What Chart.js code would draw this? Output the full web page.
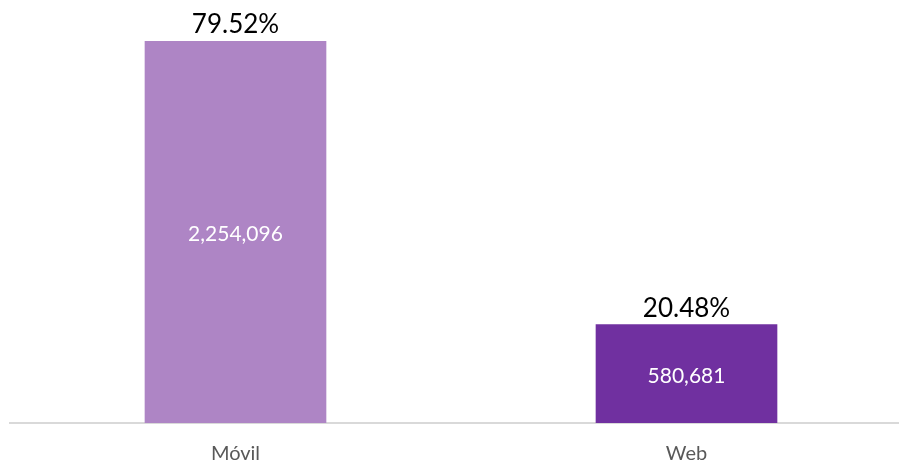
<!DOCTYPE html>
<html>
<head>
<meta charset="utf-8">
<script src="https://cdn.jsdelivr.net/npm/chart.js@4.4.1/dist/chart.umd.min.js"></script>
<style>
  html, body { margin: 0; padding: 0; background: #fff; overflow: hidden; }
  .wrap { width: 899px; height: 464px; overflow: hidden; }
</style>
</head>
<body>
<div class="wrap"><canvas id="chart" width="912" height="477"></canvas></div>
<script>
const categories = ["Móvil", "Web"];
const sessions = [2254096, 580681];
const barColors = ["#AE85C5", "#7030A0"];

const total = sessions.reduce((a, b) => a + b, 0);
const shares = sessions.map((v) => ((v / total) * 100).toFixed(2) + "%");

// value inside the bar, share on top of it
const barLabels = {
  id: "barLabels",
  afterDatasetsDraw(chart) {
    const ctx = chart.ctx;
    const meta = chart.getDatasetMeta(0);
    ctx.save();
    ctx.textAlign = "center";
    meta.data.forEach((bar, i) => {
      ctx.fillStyle = "#ffffff";
      ctx.font = "21px Lato";
      ctx.textBaseline = "middle";
      ctx.fillText(sessions[i].toLocaleString("en-US"), bar.x, (bar.y + bar.base) / 2 + 2);

      ctx.fillStyle = "#000000";
      ctx.font = "26px Lato";
      ctx.textBaseline = "bottom";
      ctx.fillText(shares[i], bar.x, bar.y - 3);
    });
    ctx.restore();
  },
};

new Chart(document.getElementById("chart"), {
  type: "bar",
  data: {
    labels: categories,
    datasets: [
      {
        data: sessions,
        backgroundColor: barColors,
        barThickness: 181,
      },
    ],
  },
  options: {
    responsive: false,
    animation: false,
    layout: { padding: { top: 41, left: 10, right: 0, bottom: 0 } },
    plugins: { legend: { display: false }, tooltip: { enabled: false } },
    scales: {
      y: { display: false, min: 0, max: Math.max(...sessions) },
      x: {
        grid: { display: false },
        border: { color: "#d9d9d9", width: 2 },
        ticks: { color: "#595959", font: { family: "Lato", size: 20 }, padding: 11 },
      },
    },
  },
  plugins: [barLabels],
});
</script>
</body>
</html>
